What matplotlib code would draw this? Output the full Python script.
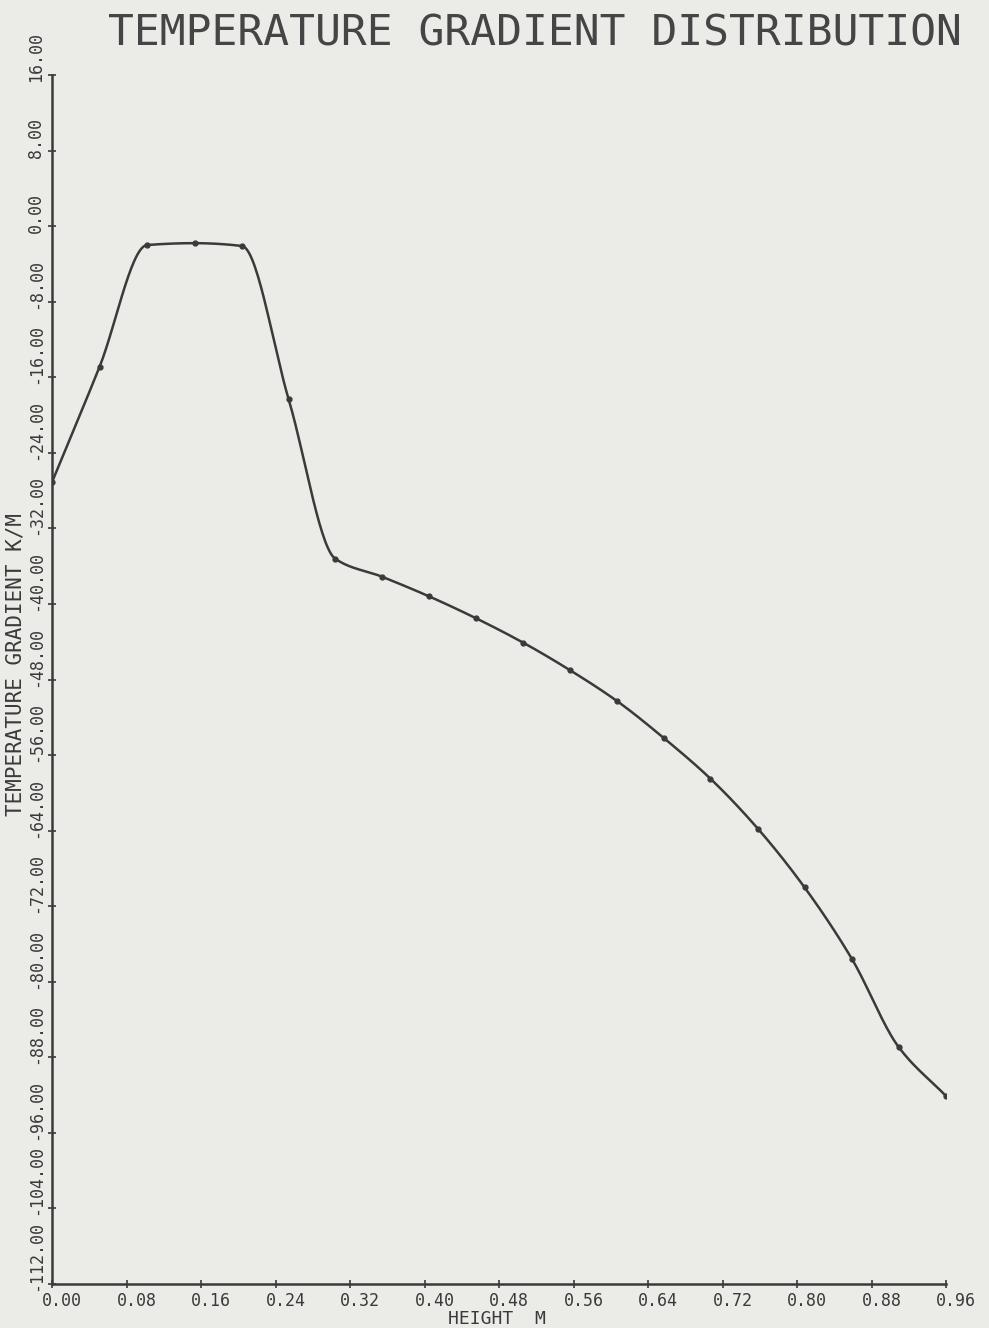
import numpy as np
import matplotlib
import matplotlib.pyplot as plt
import matplotlib.transforms as mtransforms
from matplotlib.ticker import FormatStrFormatter

matplotlib.use('Agg')

height = [0.00, 0.051, 0.102, 0.153, 0.204, 0.254, 0.304, 0.354, 0.405, 0.455,
          0.506, 0.556, 0.607, 0.657, 0.707, 0.758, 0.808, 0.859, 0.909, 0.960]
gradient = [-27.1, -14.9, -2.0, -1.8, -2.1, -18.3, -35.2, -37.1, -39.2, -41.5,
            -44.1, -47.0, -50.3, -54.2, -58.5, -63.8, -70.0, -77.6, -86.9, -92.1]

x_ticks = [0.00, 0.08, 0.16, 0.24, 0.32, 0.40, 0.48, 0.56, 0.64, 0.72, 0.80, 0.88, 0.96]
y_ticks = [-112, -104, -96, -88, -80, -72, -64, -56, -48, -40, -32, -24, -16, -8, 0, 8, 16]


def pchip(x, y, xs):
    # monotone cubic through the points, so the plotter-style curve has no overshoot
    x = np.asarray(x, float)
    y = np.asarray(y, float)
    h = np.diff(x)
    d = np.diff(y) / h
    m = np.zeros_like(y)
    for k in range(1, len(x) - 1):
        if d[k - 1] * d[k] > 0:
            w1 = 2 * h[k] + h[k - 1]
            w2 = h[k] + 2 * h[k - 1]
            m[k] = (w1 + w2) / (w1 / d[k - 1] + w2 / d[k])
    m[0] = d[0]
    m[-1] = d[-1]
    idx = np.clip(np.searchsorted(x, xs) - 1, 0, len(x) - 2)
    t = (xs - x[idx]) / h[idx]
    h00 = 2 * t**3 - 3 * t**2 + 1
    h10 = t**3 - 2 * t**2 + t
    h01 = -2 * t**3 + 3 * t**2
    h11 = t**3 - t**2
    return h00 * y[idx] + h10 * h[idx] * m[idx] + h01 * y[idx + 1] + h11 * h[idx] * m[idx + 1]


paper = '#ebebe8'
ink = '#3a3a3a'
mono = 'DejaVu Sans Mono'

fig = plt.figure(figsize=(9.89, 13.28), dpi=100, facecolor=paper)
ax = fig.add_axes([0.0526, 0.0331, 0.904, 0.9104])
ax.set_facecolor(paper)

xs = np.linspace(height[0], height[-1], 600)
ax.plot(xs, pchip(height, gradient, xs), color=ink, lw=1.8)
ax.plot(height, gradient, 'o', color=ink, ms=3.5)

ax.set_xlim(0, 0.96)
ax.set_ylim(-112, 16)
ax.set_xticks(x_ticks)
ax.set_yticks(y_ticks)
ax.xaxis.set_major_formatter(FormatStrFormatter('%.2f'))
ax.yaxis.set_major_formatter(FormatStrFormatter('%.2f'))

for side in ['top', 'right']:
    ax.spines[side].set_visible(False)
for side in ['left', 'bottom']:
    ax.spines[side].set_color(ink)
    ax.spines[side].set_linewidth(1.8)

ax.tick_params(axis='both', direction='inout', length=6, width=1.2, color=ink,
               labelcolor=ink, labelsize=12)
ax.tick_params(axis='x', pad=3)
ax.tick_params(axis='y', pad=2)

# plotter labels start a little before their tick instead of being centred on it
x_shift = mtransforms.ScaledTranslation(-10 / 100, 0, fig.dpi_scale_trans)
for lab in ax.get_xticklabels():
    lab.set_family(mono)
    lab.set_ha('left')
    lab.set_transform(lab.get_transform() + x_shift)
y_shift = mtransforms.ScaledTranslation(0, -7 / 100, fig.dpi_scale_trans)
for lab in ax.get_yticklabels():
    lab.set_family(mono)
    lab.set_rotation(90)
    lab.set_va('bottom')
    lab.set_transform(lab.get_transform() + y_shift)

fig.text(0.541, 0.975, 'TEMPERATURE GRADIENT DISTRIBUTION', ha='center', va='center',
         fontsize=31, color='#454545', family=mono)
fig.text(0.016, 0.50, 'TEMPERATURE GRADIENT K/M', rotation=90, ha='center',
         va='center', fontsize=15, color=ink, family=mono)
fig.text(0.502, 0.0065, 'HEIGHT  M', ha='center', va='center', fontsize=13,
         color=ink, family=mono)

plt.savefig('out.png', dpi=100, facecolor=paper)
